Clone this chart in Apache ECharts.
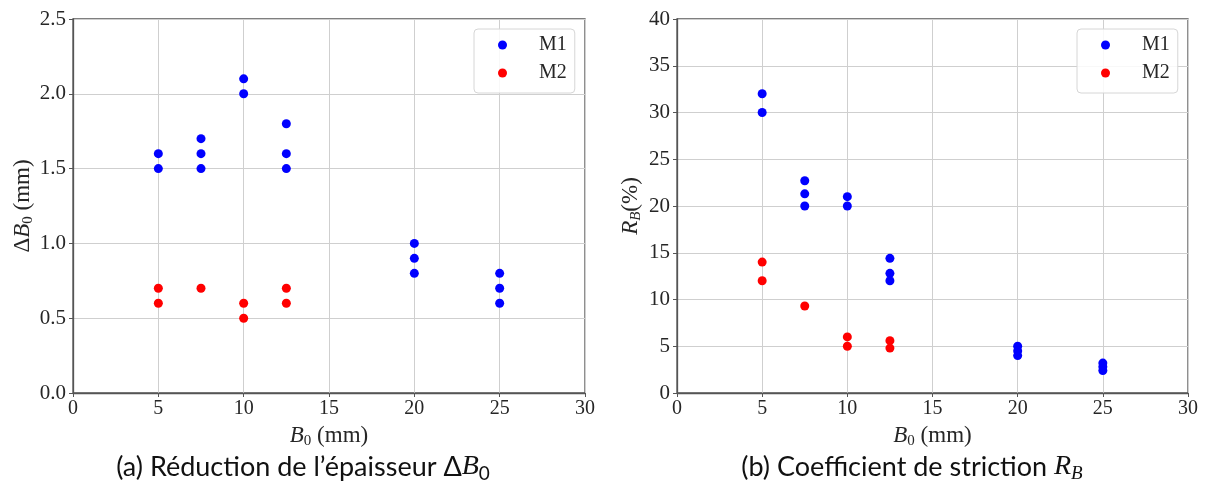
<!DOCTYPE html>
<html>
<head>
<meta charset="utf-8">
<script src="https://cdn.jsdelivr.net/npm/echarts@6/dist/echarts.min.js"></script>
<style>
html,body{margin:0;padding:0;background:#fff;}
#chart{width:1205px;height:491px;}
</style>
</head>
<body>
<div id="chart"></div>
<script>
// ---- Data ----
// (a) thickness reduction ΔB0 (mm)
const aM1_B0 = [5, 5, 7.5, 7.5, 7.5, 10, 10, 12.5, 12.5, 12.5, 20, 20, 20, 25, 25, 25];
const aM1_dB0 = [1.5, 1.6, 1.5, 1.6, 1.7, 2.0, 2.1, 1.5, 1.6, 1.8, 0.8, 0.9, 1.0, 0.6, 0.7, 0.8];
const aM2_B0 = [5, 5, 7.5, 10, 10, 12.5, 12.5];
const aM2_dB0 = [0.6, 0.7, 0.7, 0.5, 0.6, 0.6, 0.7];
// (b) striction coefficient R_B (%)
const bM1_B0 = [5, 5, 7.5, 7.5, 7.5, 10, 10, 12.5, 12.5, 12.5, 20, 20, 20, 25, 25, 25];
const bM1_RB = [30, 32, 20, 21.3, 22.7, 20, 21, 12, 12.8, 14.4, 4, 4.5, 5, 2.4, 2.8, 3.2];
const bM2_B0 = [5, 5, 7.5, 10, 10, 12.5, 12.5];
const bM2_RB = [12, 14, 9.3, 5, 6, 4.8, 5.6];
// Axis ticks
const xTicks = [0, 5, 10, 15, 20, 25, 30];
const yTicksA = [0, 0.5, 1.0, 1.5, 2.0, 2.5];
const yTicksB = [0, 5, 10, 15, 20, 25, 30, 35, 40];
const seriesNames = ['M1', 'M2'];
const captionA = '(a) Réduction de l’épaisseur Δ';
const captionB = '(b) Coefficient de striction ';

const zip = (xs, ys) => xs.map((x, i) => [x, ys[i]]);

const SERIF = '"Liberation Serif", "DejaVu Serif", serif';
const TXT = '#262626';
const GRIDC = '#cfcfcf';
const FRAME = '#555555';

const chart = echarts.init(document.getElementById('chart'), null, {renderer: 'canvas'});

const richA = {
  n: {fontFamily: SERIF, fontSize: 23, color: TXT, lineHeight: 26},
  b: {fontFamily: SERIF, fontStyle: 'italic', fontSize: 23, color: TXT, lineHeight: 26},
  s: {fontFamily: SERIF, fontSize: 15, color: TXT, lineHeight: 16, verticalAlign: 'bottom'}
};
const richB = {
  n: {fontFamily: SERIF, fontSize: 23, color: TXT, lineHeight: 26},
  b: {fontFamily: SERIF, fontStyle: 'italic', fontSize: 23, color: TXT, lineHeight: 26},
  s: {fontFamily: SERIF, fontStyle: 'italic', fontSize: 15, color: TXT, lineHeight: 16, verticalAlign: 'bottom'}
};

function xAxisDef(gi) {
  return {
    gridIndex: gi, type: 'value',
    min: xTicks[0], max: xTicks[xTicks.length - 1], interval: xTicks[1] - xTicks[0],
    name: '{b|B}{s|0}{n| (mm)}', nameLocation: 'middle', nameGap: 30,
    nameTextStyle: {rich: richA},
    axisLine: {show: true, onZero: false, lineStyle: {color: FRAME, width: 1.3}},
    axisTick: {show: true, length: 4, lineStyle: {color: FRAME}},
    axisLabel: {fontFamily: SERIF, fontSize: 20, color: TXT, margin: 6},
    splitLine: {show: true, lineStyle: {color: GRIDC, width: 1}}
  };
}

function yAxisDef(gi, ticks, name, rich, gap, fmt) {
  return {
    gridIndex: gi, type: 'value',
    min: ticks[0], max: ticks[ticks.length - 1], interval: ticks[1] - ticks[0],
    name: name, nameLocation: 'middle', nameGap: gap,
    nameTextStyle: {rich: rich},
    axisLine: {show: true, onZero: false, lineStyle: {color: FRAME, width: 1.3}},
    axisTick: {show: true, length: 4, lineStyle: {color: FRAME}},
    axisLabel: {fontFamily: SERIF, fontSize: 21, color: TXT, margin: 7, formatter: fmt},
    splitLine: {show: true, lineStyle: {color: GRIDC, width: 1}}
  };
}

function legendDef(left) {
  return {
    left: left, top: 29, orient: 'vertical',
    data: seriesNames,
    icon: 'circle', itemWidth: 9, itemHeight: 9, itemGap: 8,
    padding: [6, 8, 10, 24],
    backgroundColor: 'rgba(255,255,255,0.85)',
    borderColor: '#d6d6d6', borderWidth: 1, borderRadius: 4,
    textStyle: {fontFamily: SERIF, fontSize: 20, color: TXT, padding: [0, 0, 0, 27], lineHeight: 20},
    selectedMode: false
  };
}

function scatter(name, xi, data, color) {
  return {
    name: name, type: 'scatter', xAxisIndex: xi, yAxisIndex: xi,
    data: data, symbol: 'circle', symbolSize: 9,
    itemStyle: {color: color, opacity: 1},
    clip: false, z: 5
  };
}

const CAPF = 'Lato, "Open Sans", sans-serif';
const option = {
  animation: false,
  backgroundColor: '#ffffff',
  grid: [
    {left: 73, right: 620, top: 19, bottom: 98, show: true, borderColor: FRAME, borderWidth: 1.3, backgroundColor: 'transparent'},
    {left: 677, right: 17, top: 19, bottom: 98, show: true, borderColor: FRAME, borderWidth: 1.3, backgroundColor: 'transparent'}
  ],
  xAxis: [xAxisDef(0), xAxisDef(1)],
  yAxis: [
    yAxisDef(0, yTicksA, '{n|Δ}{b|B}{s|0}{n| (mm)}', richA, 36, v => v.toFixed(1)),
    yAxisDef(1, yTicksB, '{b|R}{s|B}{n|(%)}', richB, 33, v => String(v))
  ],
  legend: [legendDef(474), legendDef(1077)],
  series: [
    scatter('M1', 0, zip(aM1_B0, aM1_dB0), '#0000ff'),
    scatter('M2', 0, zip(aM2_B0, aM2_dB0), '#ff0000'),
    scatter('M1', 1, zip(bM1_B0, bM1_RB), '#0000ff'),
    scatter('M2', 1, zip(bM2_B0, bM2_RB), '#ff0000')
  ],
  graphic: [
    {
      type: 'text', x: 303, y: 467,
      style: {
        text: '{t|' + captionA + '}{b|B}{s|0}',
        align: 'center', verticalAlign: 'middle',
        rich: {
          t: {fontFamily: CAPF, fontSize: 27, fill: '#111', lineHeight: 32},
          b: {fontFamily: SERIF, fontStyle: 'italic', fontSize: 28, fill: '#111', lineHeight: 32},
          s: {fontFamily: CAPF, fontSize: 19, fill: '#111', lineHeight: 20, verticalAlign: 'bottom'}
        }
      }
    },
    {
      type: 'text', x: 912, y: 467,
      style: {
        text: '{t|' + captionB + '}{b|R}{s|B}',
        align: 'center', verticalAlign: 'middle',
        rich: {
          t: {fontFamily: CAPF, fontSize: 27, fill: '#111', lineHeight: 32},
          b: {fontFamily: SERIF, fontStyle: 'italic', fontSize: 28, fill: '#111', lineHeight: 32},
          s: {fontFamily: SERIF, fontStyle: 'italic', fontSize: 19, fill: '#111', lineHeight: 20, verticalAlign: 'bottom'}
        }
      }
    }
  ]
};
chart.setOption(option);
</script>
</body>
</html>
